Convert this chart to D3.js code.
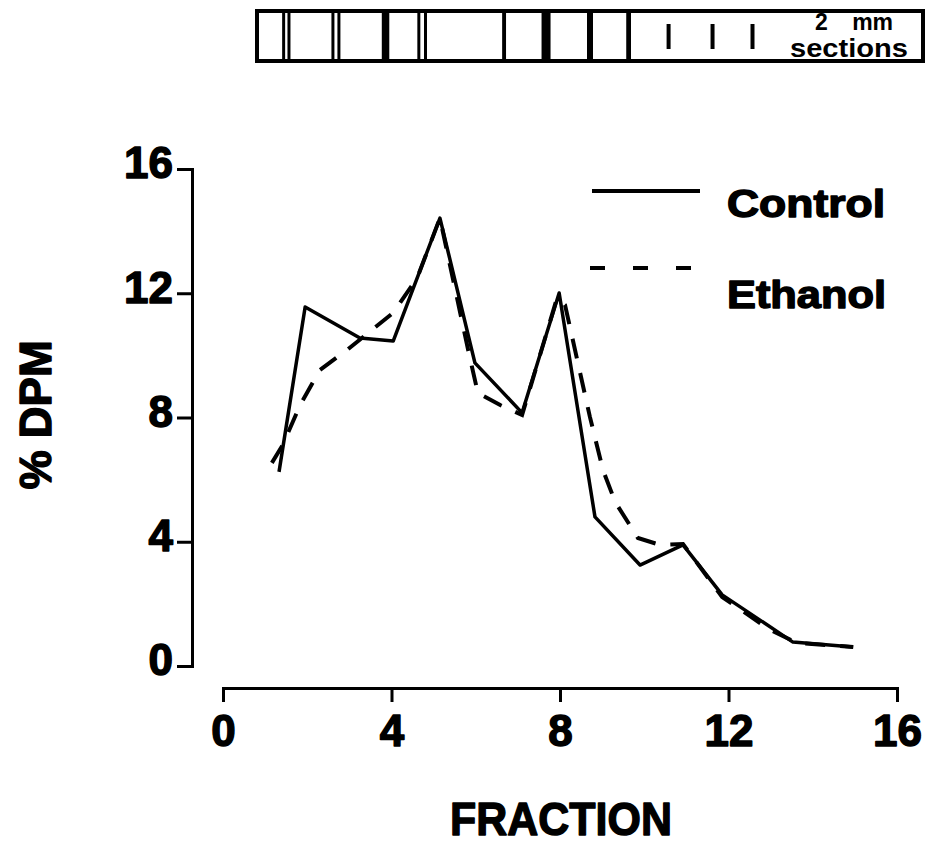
<!DOCTYPE html>
<html>
<head>
<meta charset="utf-8">
<script src="https://cdn.jsdelivr.net/npm/d3@7"></script>
<style>
  body { margin: 0; background: #fff; }
  svg { display: block; }
  text { font-family: "Liberation Sans", Arial, Helvetica, sans-serif; font-weight: bold; fill: #000; }
  .heavy { stroke: #000; stroke-width: 1.4px; stroke-linejoin: round; }
</style>
</head>
<body>
<script>
var width = 925;
var height = 849;

// fractions (x) and % DPM (y)
var controlFraction = [1.33, 1.95, 3.25, 4.04, 5.15, 5.98, 7.10, 7.98, 8.83, 9.90, 10.92, 11.85, 13.53, 14.96];
var controlDpm      = [6.25, 11.56, 10.56, 10.46, 14.42, 9.76, 8.15, 12.01, 4.80, 3.25, 3.90, 2.29, 0.77, 0.61];

var ethanolFraction = [1.16, 1.42, 1.83, 2.30, 2.94, 4.04, 4.61, 5.15, 5.82, 6.05, 6.58, 7.10, 7.93, 8.12, 8.71, 9.02, 9.31, 9.85, 10.37, 10.92, 11.85, 12.99, 13.63, 14.96];
var ethanolDpm      = [6.54, 7.12, 8.40, 9.53, 10.17, 11.37, 12.49, 14.42, 10.17, 8.79, 8.40, 8.08, 11.85, 11.62, 8.02, 6.31, 5.28, 4.12, 3.90, 3.93, 2.22, 1.16, 0.74, 0.61];

var xTicks = [0, 4, 8, 12, 16];
var yTicks = [0, 4, 8, 12, 16];

// gel strip: band positions (% of strip length) and band strength
var bandPos    = [4.0, 4.8, 11.4, 12.3, 19.3, 24.3, 25.3, 37.1, 43.4, 50.0, 55.8];
var bandWeight = [1, 1, 1, 1, 2.5, 1, 1, 1.3, 3, 2, 1.6];
var markPos    = [61.8, 68.4, 74.4];

var svg = d3.select('body').append('svg')
            .attr('width', width)
            .attr('height', height);

var x = d3.scaleLinear().domain([0, 16]).range([223, 897]);
var y = d3.scaleLinear().domain([0, 16]).range([666, 169]);

// ---- gel strip on top
var sx = d3.scaleLinear().domain([0, 100]).range([257, 923]);
var strip = svg.append('g').attr('class', 'strip');
strip.append('rect')
     .attr('x', sx(0)).attr('y', 11)
     .attr('width', sx(100) - sx(0)).attr('height', 50)
     .attr('fill', 'none').attr('stroke', '#000').attr('stroke-width', 4);
strip.selectAll('.band')
     .data(bandPos.map((p, i) => ({p: p, w: bandWeight[i]})))
     .enter().append('line')
       .attr('class', 'band')
       .attr('x1', d => sx(d.p)).attr('x2', d => sx(d.p))
       .attr('y1', 11).attr('y2', 61)
       .attr('stroke', '#000')
       .attr('stroke-width', d => 3 * d.w);
strip.selectAll('.mark')
     .data(markPos)
     .enter().append('line')
       .attr('class', 'mark')
       .attr('x1', d => sx(d)).attr('x2', d => sx(d))
       .attr('y1', 24).attr('y2', 49)
       .attr('stroke', '#000').attr('stroke-width', 4);
strip.append('text').attr('x', 854).attr('y', 30)
     .attr('text-anchor', 'middle').style('font-size', '23px')
     .style('word-spacing', '18px').text('2 mm');
strip.append('text').attr('x', 849).attr('y', 57)
     .attr('text-anchor', 'middle').style('font-size', '25px')
     .attr('textLength', 118).attr('lengthAdjust', 'spacingAndGlyphs')
     .text('sections');

// ---- axes
var yAxis = d3.axisLeft(y).tickValues(yTicks).tickSize(15).tickPadding(4);
var xAxis = d3.axisBottom(x).tickValues(xTicks).tickSize(14).tickPadding(12);

var gy = svg.append('g').attr('transform', 'translate(192,0)').call(yAxis);
var gx = svg.append('g').attr('transform', 'translate(0,688)').call(xAxis);

[gx, gy].forEach(function(g) {
  g.select('.domain').attr('stroke-width', 3);
  g.selectAll('.tick line').attr('stroke-width', 3);
  g.selectAll('.tick text')
   .attr('class', 'heavy')
   .style('font-size', '44px')
   .style('font-family', '"Liberation Sans", Arial, sans-serif')
   .style('font-weight', 'bold')
   .attr('fill', '#000');
});
gy.selectAll('.tick text').attr('dy', '0.2em');
gx.selectAll('.tick text').attr('dy', '0.72em');

svg.append('text')
   .attr('class', 'heavy')
   .attr('x', 561).attr('y', 835)
   .attr('text-anchor', 'middle')
   .style('font-size', '47px')
   .attr('textLength', 222).attr('lengthAdjust', 'spacingAndGlyphs')
   .text('FRACTION');

svg.append('text')
   .attr('class', 'heavy')
   .attr('transform', 'translate(51,415) rotate(-90)')
   .attr('text-anchor', 'middle')
   .style('font-size', '44px')
   .text('% DPM');

// ---- curves
var line = d3.line().x(d => x(d[0])).y(d => y(d[1]));

svg.append('path')
   .datum(d3.zip(controlFraction, controlDpm))
   .attr('d', line)
   .attr('fill', 'none').attr('stroke', '#000')
   .attr('stroke-width', 3.5).attr('stroke-linejoin', 'round');

svg.append('path')
   .datum(d3.zip(ethanolFraction, ethanolDpm))
   .attr('d', line)
   .attr('fill', 'none').attr('stroke', '#000')
   .attr('stroke-width', 4).attr('stroke-dasharray', '20,15');

// ---- legend
var legend = svg.append('g').attr('class', 'legend');
legend.append('line')
      .attr('x1', 592).attr('x2', 700).attr('y1', 191).attr('y2', 191)
      .attr('stroke', '#000').attr('stroke-width', 4);
legend.append('line')
      .attr('x1', 590).attr('x2', 692).attr('y1', 268).attr('y2', 268)
      .attr('stroke', '#000').attr('stroke-width', 4)
      .attr('stroke-dasharray', '15,28');
legend.append('text').attr('class', 'heavy').attr('x', 727).attr('y', 217)
      .style('font-size', '38px')
      .attr('textLength', 158).attr('lengthAdjust', 'spacingAndGlyphs')
      .text('Control');
legend.append('text').attr('class', 'heavy').attr('x', 727).attr('y', 308)
      .style('font-size', '38px')
      .attr('textLength', 159).attr('lengthAdjust', 'spacingAndGlyphs')
      .text('Ethanol');
</script>
</body>
</html>
